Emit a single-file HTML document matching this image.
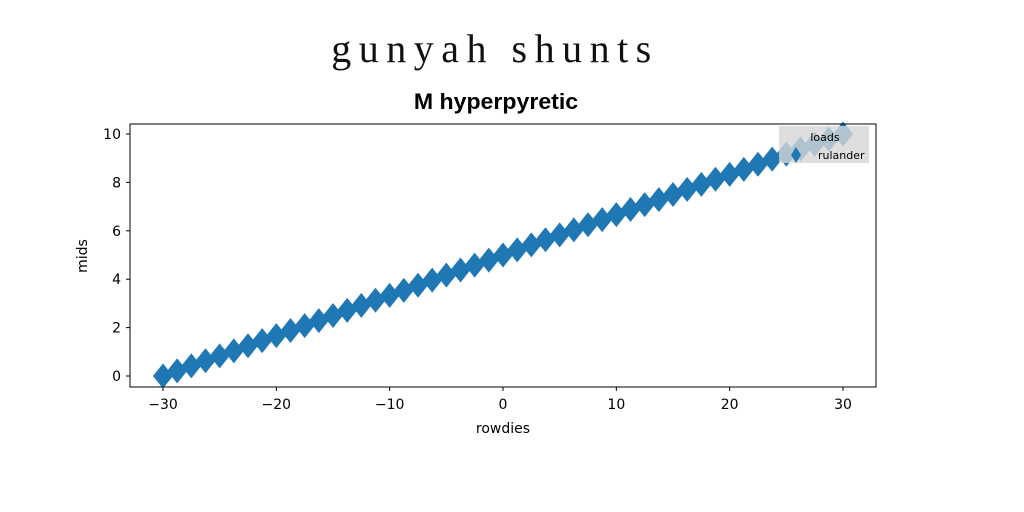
<!DOCTYPE html>
<html><head><meta charset="utf-8"><style>
body{margin:0;background:#fff;}
svg{display:block;font-family:"DejaVu Sans","Liberation Sans",sans-serif;}
</style></head><body>
<svg id="chart" width="1024" height="512" viewBox="0 0 1024 512" xmlns="http://www.w3.org/2000/svg">
<rect width="1024" height="512" fill="#fff"/>
<text x="495" y="62" text-anchor="middle" font-family="'Liberation Serif',serif" font-size="40" letter-spacing="7.5" fill="#111">gunyah shunts</text>
<text x="496" y="109" text-anchor="middle" font-family="'Liberation Sans',sans-serif" font-weight="bold" font-size="22" fill="#000" transform="translate(496 0) scale(1.05 1) translate(-496 0)">M hyperpyretic</text>
<g id="plot"></g>
<rect x="130" y="124" width="746" height="263" fill="none" stroke="#000" stroke-width="1"/>
<text x="503" y="433" text-anchor="middle" font-size="14" fill="#000">rowdies</text>
<text x="0" y="0" text-anchor="middle" font-size="14" fill="#000" transform="translate(87 256) rotate(-90)">mids</text>
<g>
<rect x="779" y="126" width="90" height="37" fill="#d6d6d6" fill-opacity="0.8"/>
<text x="825" y="141" text-anchor="middle" font-size="11" fill="#000">loads</text>
<path d="M796,147 L801,155 L796,163 L791,155 Z" fill="#1f77b4"/>
<text x="818" y="159" font-size="11" fill="#000">rulander</text>
</g>
</svg>
<script>
const xValues=[-30,-28.75,-27.5,-26.25,-25,-23.75,-22.5,-21.25,-20,-18.75,-17.5,-16.25,-15,-13.75,-12.5,-11.25,-10,-8.75,-7.5,-6.25,-5,-3.75,-2.5,-1.25,0,1.25,2.5,3.75,5,6.25,7.5,8.75,10,11.25,12.5,13.75,15,16.25,17.5,18.75,20,21.25,22.5,23.75,25,26.25,27.5,28.75,30];
const yValues=[0,0.21,0.42,0.63,0.83,1.04,1.25,1.46,1.67,1.88,2.08,2.29,2.5,2.71,2.92,3.13,3.33,3.54,3.75,3.96,4.17,4.38,4.58,4.79,5,5.21,5.42,5.63,5.83,6.04,6.25,6.46,6.67,6.88,7.08,7.29,7.5,7.71,7.92,8.13,8.33,8.54,8.75,8.96,9.17,9.38,9.58,9.79,10];
const xTicks=[-30,-20,-10,0,10,20,30];
const yTicks=[0,2,4,6,8,10];
const xTickLabels=["\u221230","\u221220","\u221210","0","10","20","30"];
const yTickLabels=["0","2","4","6","8","10"];
const NS="http://www.w3.org/2000/svg";
function sx(v){return 163+(v+30)*(843-163)/60;}
function sy(v){return 376-v*(376-134)/10;}
const g=document.getElementById('plot');
function mk(tag,attrs){const e=document.createElementNS(NS,tag);for(const k in attrs)e.setAttribute(k,attrs[k]);return e;}
xTicks.forEach((t,i)=>{
  const l=mk('line',{x1:sx(t),x2:sx(t),y1:387,y2:391,stroke:'#000'});
  
  
  g.appendChild(l);
  const tx=mk('text',{x:sx(t),y:409,'text-anchor':'middle','font-size':14});
  
  
  tx.textContent=xTickLabels[i];g.appendChild(tx);
});
yTicks.forEach((t,i)=>{
  const l=mk('line',{x1:126,x2:130,y1:sy(t),y2:sy(t),stroke:'#000'});
  
  
  g.appendChild(l);
  const tx=mk('text',{x:121,y:sy(t)+5,'text-anchor':'end','font-size':14});
  
  
  tx.textContent=yTickLabels[i];g.appendChild(tx);
});
xValues.forEach((x,i)=>{
  const cx=sx(x),cy=sy(yValues[i]);
  const p=mk('path',{d:`M${cx},${cy-12.5} L${cx+10},${cy} L${cx},${cy+12.5} L${cx-10},${cy} Z`,fill:'#1f77b4'});
  
  
  g.appendChild(p);
});
</script>
</body></html>
